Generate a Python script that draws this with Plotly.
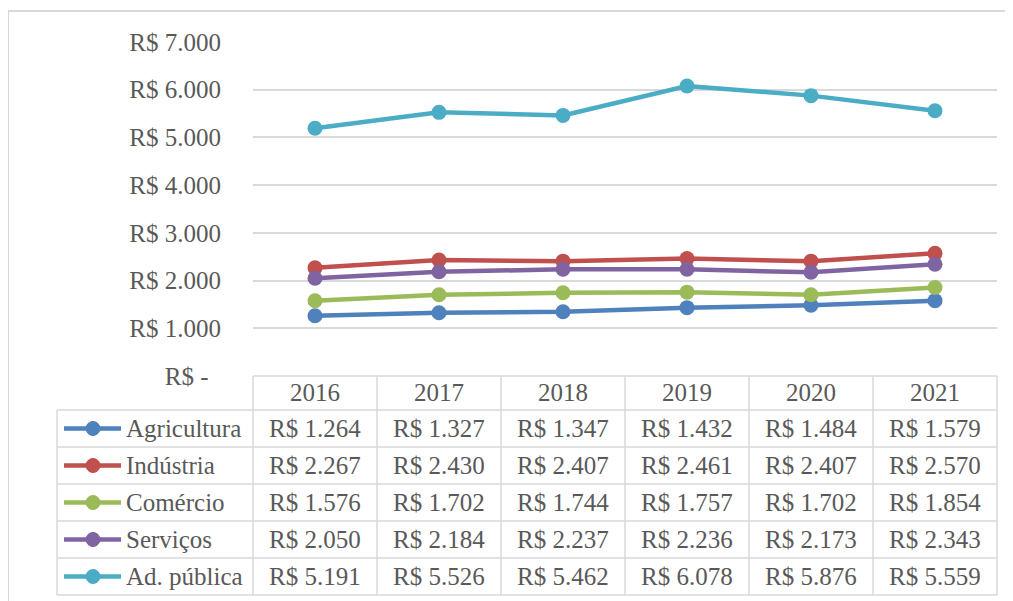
import plotly.graph_objects as go

years = ["2016", "2017", "2018", "2019", "2020", "2021"]
series_names = ["Agricultura", "Indústria", "Comércio", "Serviços", "Ad. pública"]
agricultura = [1264, 1327, 1347, 1432, 1484, 1579]
industria = [2267, 2430, 2407, 2461, 2407, 2570]
comercio = [1576, 1702, 1744, 1757, 1702, 1854]
servicos = [2050, 2184, 2237, 2236, 2173, 2343]
ad_publica = [5191, 5526, 5462, 6078, 5876, 5559]
series_values = [agricultura, industria, comercio, servicos, ad_publica]
colors = ["#4F81BD", "#C0504D", "#9BBB59", "#8064A2", "#4BACC6"]
tick_vals = [0, 1000, 2000, 3000, 4000, 5000, 6000, 7000]
tick_text = ["R$ -\u00a0\u00a0", "R$ 1.000", "R$ 2.000", "R$ 3.000", "R$ 4.000",
             "R$ 5.000", "R$ 6.000", "R$ 7.000"]

OFF = 8  # page body margin
W, H = 1013 - OFF, 601 - OFF
L, R, T, B = 253 - OFF, 997 - OFF, 42 - OFF, 376 - OFF
FONT = "Liberation Serif"
TXT = "#595959"
GRID = "#D9D9D9"
FS = 25


def fx(px):
    return (px - OFF - L) / (R - L)


def fy(py):
    return (B - (py - OFF)) / (B - T)


def fmt(v):
    return "R$ " + f"{v:,}".replace(",", ".")


fig = go.Figure()
for name, vals, c in zip(series_names, series_values, colors):
    fig.add_trace(go.Scatter(x=years, y=vals, name=name, mode="lines+markers",
                             line=dict(color=c, width=4.5),
                             marker=dict(color=c, size=15), cliponaxis=False))

shapes = []
anns = []
# outer chart border
shapes.append(dict(type="rect", xref="paper", yref="paper", x0=fx(8), x1=fx(1030),
                   y0=fy(620), y1=fy(11), line=dict(color=GRID, width=2)))

col_w = (R - L) / len(years)
header_top, header_bot = 376, 410
row_h = 37
rows_top = header_bot
table_bot = rows_top + row_h * len(series_names)
left_x = 57
tbl_l, tbl_r = 253, 997

def hline(py, x0, x1):
    shapes.append(dict(type="line", xref="paper", yref="paper", x0=fx(x0), x1=fx(x1),
                       y0=fy(py), y1=fy(py), line=dict(color=GRID, width=1.5)))

def vline(px, y0, y1):
    shapes.append(dict(type="line", xref="paper", yref="paper", x0=fx(px), x1=fx(px),
                       y0=fy(y0), y1=fy(y1), line=dict(color=GRID, width=1.5)))

hline(header_top, tbl_l, tbl_r)
for k in range(len(series_names) + 1):
    hline(rows_top + k * row_h, left_x, tbl_r)
for j in range(len(years) + 1):
    vline(tbl_l + j * col_w, header_top, table_bot)
vline(left_x, rows_top, table_bot)

# header years
for j, yr in enumerate(years):
    anns.append(dict(x=j, xref="x", y=fy((header_top + header_bot) / 2), yref="paper",
                     text=yr, showarrow=False, xanchor="center", yanchor="middle",
                     font=dict(family=FONT, size=FS, color=TXT)))

for i, (name, vals, c) in enumerate(zip(series_names, series_values, colors)):
    cy = rows_top + i * row_h + row_h / 2
    shapes.append(dict(type="line", xref="paper", yref="paper", x0=fx(64), x1=fx(121),
                       y0=fy(cy), y1=fy(cy), line=dict(color=c, width=4.5)))
    shapes.append(dict(type="circle", xref="paper", yref="paper", x0=fx(86), x1=fx(100),
                       y0=fy(cy + 7), y1=fy(cy - 7), fillcolor=c, line=dict(color=c, width=1)))
    anns.append(dict(x=fx(124), xref="paper", y=fy(cy), yref="paper", text=name,
                     showarrow=False, xanchor="left", yanchor="middle",
                     font=dict(family=FONT, size=FS, color=TXT)))
    for j, v in enumerate(vals):
        anns.append(dict(x=j, xref="x", y=fy(cy), yref="paper", text=fmt(v),
                         showarrow=False, xanchor="center", yanchor="middle",
                         font=dict(family=FONT, size=FS, color=TXT)))

fig.update_layout(
    width=W, height=H,
    margin=dict(l=L, r=W - R, t=T, b=H - B, pad=0),
    paper_bgcolor="white", plot_bgcolor="white",
    showlegend=False,
    font=dict(family=FONT, size=FS, color=TXT),
    shapes=shapes, annotations=anns,
    xaxis=dict(type="category", range=[-0.5, 5.5], showticklabels=False,
               showgrid=False, zeroline=False, showline=False, ticks=""),
    yaxis=dict(range=[0, 7000], tickvals=tick_vals, ticktext=tick_text,
               showgrid=True, gridcolor=GRID, gridwidth=1.5, zeroline=False,
               showline=False, ticks="", ticklabelstandoff=31,
               tickfont=dict(family=FONT, size=FS, color=TXT)),
)

fig.write_html("out.html")
